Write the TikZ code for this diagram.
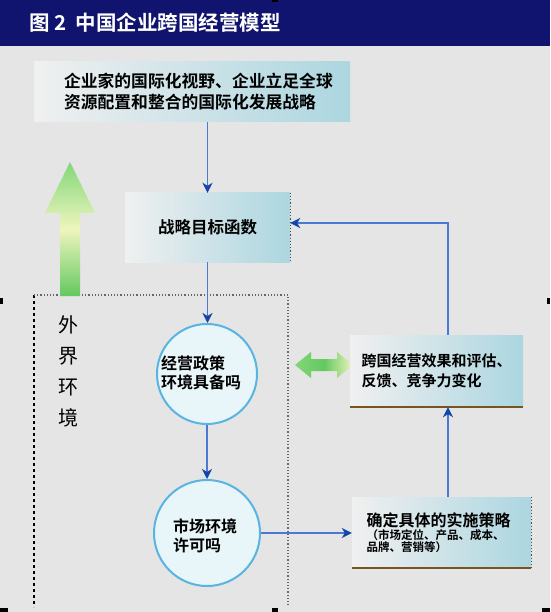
\documentclass[tikz,border=0pt]{standalone}
\usepackage{fontspec}
\newfontfamily\cjk{Noto Sans CJK SC}[BoldFont={Noto Sans CJK SC Bold}]
\usetikzlibrary{arrows.meta}
\definecolor{bgc}{RGB}{229,229,229}
\definecolor{titlec}{RGB}{16,20,110}
\definecolor{boxL}{RGB}{240,240,240}
\definecolor{boxR}{RGB}{172,214,224}
\definecolor{circfill}{RGB}{232,246,250}
\definecolor{circdraw}{RGB}{90,180,225}
\definecolor{flowc}{RGB}{75,120,210}
\definecolor{tipc}{RGB}{20,70,170}
\definecolor{brownc}{RGB}{120,85,30}
\definecolor{greenA}{RGB}{130,215,120}
\definecolor{greenB}{RGB}{100,200,95}
\definecolor{paleY}{RGB}{238,245,190}
\begin{document}
\begin{tikzpicture}[x=1pt,y=-1pt,
  boxshade/.style={rectangle, left color=boxL, right color=boxR, inner sep=0pt, align=left, font=\cjk\bfseries},
  circ/.style={circle, fill=circfill, draw=circdraw, line width=2pt, inner sep=0pt},
  ctext/.style={align=left, font=\cjk\bfseries\fontsize{16}{19}\selectfont, inner sep=0pt},
  flow/.style={draw=flowc, line width=1.6pt, -{Stealth[length=10pt,width=10pt,inset=3pt,color=tipc]}},
  brownedge/.style={draw=brownc, line width=2pt},
  darkedge/.style={draw=black!70, line width=1.2pt, dotted},
]
\useasboundingbox (0,0) rectangle (550,612);
\fill[bgc] (0,0) rectangle (550,612);
% title bar
\fill[titlec] (0,0) rectangle (550,46);
\node[anchor=west, inner sep=0pt, text=white, font=\cjk\bfseries\fontsize{20.5}{24}\selectfont] (title) at (29,23) {图 2\ \ 中国企业跨国经营模型};
% dashed environment frame
\draw[black, line width=1.6pt, dash pattern=on 3pt off 3pt] (34,295) -- (34,607);
\draw[black!60, line width=1.2pt, dotted] (34,295) -- (288,295) -- (288,607);
% green up arrow
\shade[top color=greenA, bottom color=greenB, middle color=paleY]
  (60,296) -- (60,213) -- (45,213) -- (70,162) -- (95,213) -- (80,213) -- (80,296) -- cycle;
% green double arrow
\shade[left color=greenA, right color=paleY, middle color=greenB]
  (295,365) -- (311,352) -- (311,359) -- (337,359) -- (337,352) -- (353,365) -- (337,378) -- (337,371) -- (311,371) -- (311,378) -- cycle;
% external environment label
\node[align=center, inner sep=0pt, font=\cjk\fontsize{20}{31}\selectfont] (env) at (68,371) {外\\界\\环\\境};
% boxes
\node[boxshade, minimum width=316, minimum height=60, text width=256, font=\cjk\bfseries\fontsize{16.8}{21}\selectfont] (top) at (192,92)
  {企业家的国际化视野、企业立足全球\\资源配置和整合的国际化发展战略};
\node[boxshade, minimum width=165, minimum height=69, align=center, font=\cjk\bfseries\fontsize{16.5}{21}\selectfont] (strat) at (207.5,227.5) {战略目标函数};
\node[boxshade, minimum width=173, minimum height=72, text width=150, font=\cjk\bfseries\fontsize{15}{20}\selectfont] (eval) at (436.5,371)
  {跨国经营效果和评估、\\反馈、竞争力变化};
\node[boxshade, minimum width=179, minimum height=71, text width=150] (impl) at (441.5,532.5)
  {{\fontsize{16}{19}\selectfont 确定具体的实施策略}\\[-2pt]{\fontsize{11.5}{15}\selectfont （市场定位、产品、成本、\\品牌、营销等）}};
\draw[darkedge] (strat.north east) -- (strat.south east);
\draw[darkedge] (impl.north east) -- (impl.south east);
\draw[brownedge] (eval.south west) -- (eval.south east);
\draw[brownedge] (impl.south west) -- (impl.south east);
% circles
\node[circ, minimum size=100] (c1) at (207,374) {};
\node[ctext] (t1) at (201,372.5) {经营政策\\环境具备吗};
\node[circ, minimum size=106] (c2) at (207,533) {};
\node[ctext] (t2) at (205,536) {市场环境\\许可吗};
% connectors
\coordinate (vx) at (448,0);
\draw[flow] (top.south -| strat.north) -- (strat.north);
\draw[flow] (strat.south) -- (strat.south |- c1.north);
\draw[flow] (c1.south) -- (c2.north);
\draw[flow] (c2.east) -- (c2.east -| impl.west);
\draw[flow] (impl.north -| vx) -- (eval.south -| vx);
\draw[flow] (eval.north -| vx) |- ([yshift=4.5pt]strat.east);
% crop marks
\fill[black] (272,0) rectangle (278,2);
\fill[black] (0,608) rectangle (8,612);
\fill[black] (272,608) rectangle (278,612);
\fill[black] (542,608) rectangle (550,612);
\fill[black] (0,298) rectangle (3,304);
\fill[black] (547,298) rectangle (550,304);
\end{tikzpicture}
\end{document}
